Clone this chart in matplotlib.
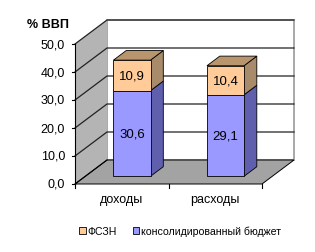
import numpy as np
import matplotlib.pyplot as plt
from matplotlib.patches import Polygon, Patch

# данные
categories = ['доходы', 'расходы']
budget = [30.6, 29.1]   # консолидированный бюджет
fszn = [10.9, 10.4]     # ФСЗН
yticks = [0, 10, 20, 30, 40, 50]

c_blue = '#9999FF'
c_blue_side = '#5F5FAE'
c_orange = '#FFCC99'
c_orange_side = '#A88B6A'
c_orange_top = '#B8956C'

fig = plt.figure(figsize=(3.15, 2.53), dpi=100)
ax = fig.add_axes([75/315, 1-185/253, 187/315, 140/253])
ax.set_xlim(-0.5, 1.5)
ax.set_ylim(0, 50)
ax.axis('off')

# глубина 3D (в единицах данных)
DX = 32 * 2/187
DY = 24 * 50/140

def p(x, y, d):
    return (x + d*DX, y + d*DY)

def poly(pts, fc, ec='k', lw=0.6, z=1):
    ax.add_patch(Polygon(pts, closed=True, fc=fc, ec=ec, lw=lw, zorder=z, clip_on=False))

# стены
poly([p(-0.5, 0, 1), p(1.5, 0, 1), p(1.5, 50, 1), p(-0.5, 50, 1)], 'white', ec='#9a9a9a', lw=1.2, z=0)
poly([p(-0.5, 0, 0), p(-0.5, 0, 1), p(-0.5, 50, 1), p(-0.5, 50, 0)], '#b4b4b4', ec='none', z=1)
poly([p(-0.5, 0, 0), p(1.5, 0, 0), p(1.5, 0, 1), p(-0.5, 0, 1)], '#a3a3a3', ec='k', lw=0.7, z=1)

# сетка
for v in yticks[1:]:
    x0, y0 = p(-0.5, v, 0)
    x1, y1 = p(-0.5, v, 1)
    x2, y2 = p(1.5, v, 1)
    ax.plot([x0, x1, x2], [y0, y1, y2], color='#222222', lw=0.9, zorder=2, clip_on=False)
x1, y1 = p(-0.5, 0, 1)
ax.plot([-0.5, x1], [0, y1], color='k', lw=0.8, zorder=2, clip_on=False)
ax.plot([-0.5, -0.5], [0, 50], color='k', lw=0.8, zorder=2, clip_on=False)

# столбцы
d0, d1 = 0.32, 0.72
w = 0.396
x = np.arange(len(categories))
for i in x:
    segs = [(0, budget[i], c_blue, c_blue_side), (budget[i], budget[i] + fszn[i], c_orange, c_orange_side)]
    for b, t, fc, sc in segs:
        xr = i + w/2
        poly([p(xr, b, d0), p(xr, b, d1), p(xr, t, d1), p(xr, t, d0)], sc, z=3)
    top = budget[i] + fszn[i]
    xl, xr = i - w/2, i + w/2
    poly([p(xl, top, d0), p(xl, top, d1), p(xr, top, d1), p(xr, top, d0)], c_orange_top, z=3)

ax.bar(x + d0*DX, budget, bottom=d0*DY, width=w, color=c_blue, edgecolor='k', lw=0.6, zorder=4, clip_on=False)
ax.bar(x + d0*DX, fszn, bottom=np.array(budget) + d0*DY, width=w, color=c_orange, edgecolor='k', lw=0.6, zorder=4, clip_on=False)

for i in x:
    ax.text(i + d0*DX, budget[i]/2 + d0*DY, f'{budget[i]:.1f}'.replace('.', ','),
            ha='center', va='center', fontsize=9.5, family='Liberation Sans', zorder=5)
    ax.text(i + d0*DX, budget[i] + fszn[i]/2 + d0*DY, f'{fszn[i]:.1f}'.replace('.', ','),
            ha='center', va='center', fontsize=9.5, family='Liberation Sans', zorder=5)

# оси
for v in yticks:
    ax.plot([-0.5 - 3*2/187, -0.5], [v, v], color='k', lw=0.8, clip_on=False)
    ax.text(-0.5 - 10*2/187, v, f'{v:.1f}'.replace('.', ','), ha='right', va='center',
            fontsize=9, family='Liberation Sans')
for t in [-0.5, 0.5, 1.5]:
    ax.plot([t, t], [0, -4*50/140], color='k', lw=0.8, clip_on=False)
for i, c in enumerate(categories):
    ax.text(i, -15*50/140, c, ha='center', va='center', fontsize=9, family='Liberation Sans')

fig.text(27/315, 1-25/253, '% ВВП', ha='left', va='center', fontsize=9, fontweight='bold',
         family='Liberation Sans')

handles = [Patch(fc=c_orange, ec='k', lw=0.6), Patch(fc=c_blue, ec='k', lw=0.6)]
fig.legend(handles, ['ФСЗН', 'консолидированный бюджет'], loc='center', bbox_to_anchor=(180/315, 1-232/253),
           ncol=2, frameon=False, handlelength=0.6, handleheight=0.6, handletextpad=0.15, columnspacing=1.5,
           prop={'family': 'Liberation Sans', 'size': 7.6})

fig.savefig('out.png', dpi=100)
